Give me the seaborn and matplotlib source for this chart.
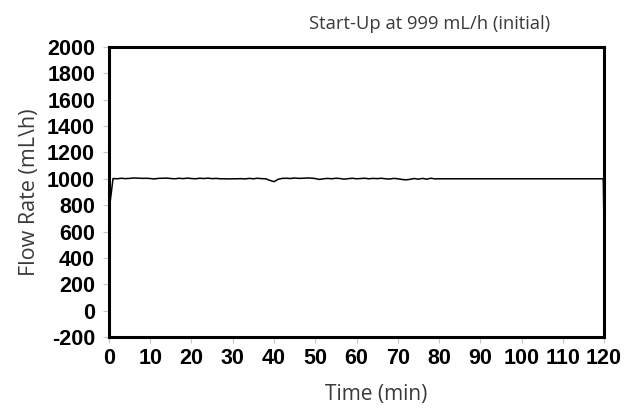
import numpy as np
import pandas as pd
import matplotlib
matplotlib.use("Agg")
import matplotlib.pyplot as plt
import seaborn as sns

# flow readings, one per minute for the first 80 min, then steady to the end
minutes = list(range(0, 81)) + [90, 100, 110, 119.8, 120]
flow = [750, 1002, 1000, 1004, 1001, 1003, 1006, 1005, 1003, 1004,
        1002, 999, 1003, 1004, 1005, 1002, 1000, 1004, 1001, 1005,
        1002, 1000, 1004, 1002, 1005, 1001, 1003, 1000, 1000, 999,
        1000, 1000, 1001, 999, 1003, 1000, 1004, 1001, 1000, 988,
        978, 996, 1003, 1004, 1002, 1006, 1003, 1004, 1006, 1005,
        1002, 995, 1000, 1003, 1000, 1004, 1002, 997, 1001, 1004,
        1000, 1002, 1004, 1000, 1003, 1001, 1004, 1000, 998, 1003,
        1000, 995, 992, 996, 1002, 997, 1003, 997, 1004, 999,
        1000, 1000, 1000, 1000, 1000, 605]

xticks = list(range(0, 121, 10))
yticks = list(range(-200, 2001, 200))

df = pd.DataFrame({"Time": minutes, "Flow": flow})

sns.set_style("white")
plt.rcParams["font.family"] = ["Open Sans", "DejaVu Sans"]
plt.rcParams["axes.unicode_minus"] = False

fig = plt.figure(figsize=(6.26, 4.08), dpi=100)
ax = fig.add_axes([0.174, 0.174, 0.791, 0.711])
sns.lineplot(data=df, x="Time", y="Flow", color="black", linewidth=1.1, ax=ax)

ax.set_xlim(0, 120)
ax.set_ylim(-200, 2000)
ax.set_xticks(xticks)
ax.set_yticks(yticks)
for lab in ax.get_xticklabels() + ax.get_yticklabels():
    lab.set_fontfamily("Liberation Sans")
    lab.set_fontweight("bold")
    lab.set_fontsize(15.5)
    lab.set_color("black")
ax.tick_params(bottom=True, left=True, direction="out", length=4, width=0.8,
               color="#c8c8c8")
ax.tick_params(axis="y", pad=6)
ax.tick_params(axis="x", pad=4)

for s in ax.spines.values():
    s.set_visible(True)
    s.set_color("black")
    s.set_linewidth(2.2)

ax.set_xlabel("Time (min)", fontsize=15, color="#3a3a3a", labelpad=11)
ax.xaxis.label.set_x(0.54)
ax.set_ylabel("Flow Rate (mL\\h)", fontsize=15.5, color="#3a3a3a", labelpad=5)
ax.set_title("Start-Up at 999 mL/h (initial)", fontsize=13.2, color="#3a3a3a",
             pad=13, x=0.648)

fig.savefig("out.png", dpi=100, facecolor="white")
